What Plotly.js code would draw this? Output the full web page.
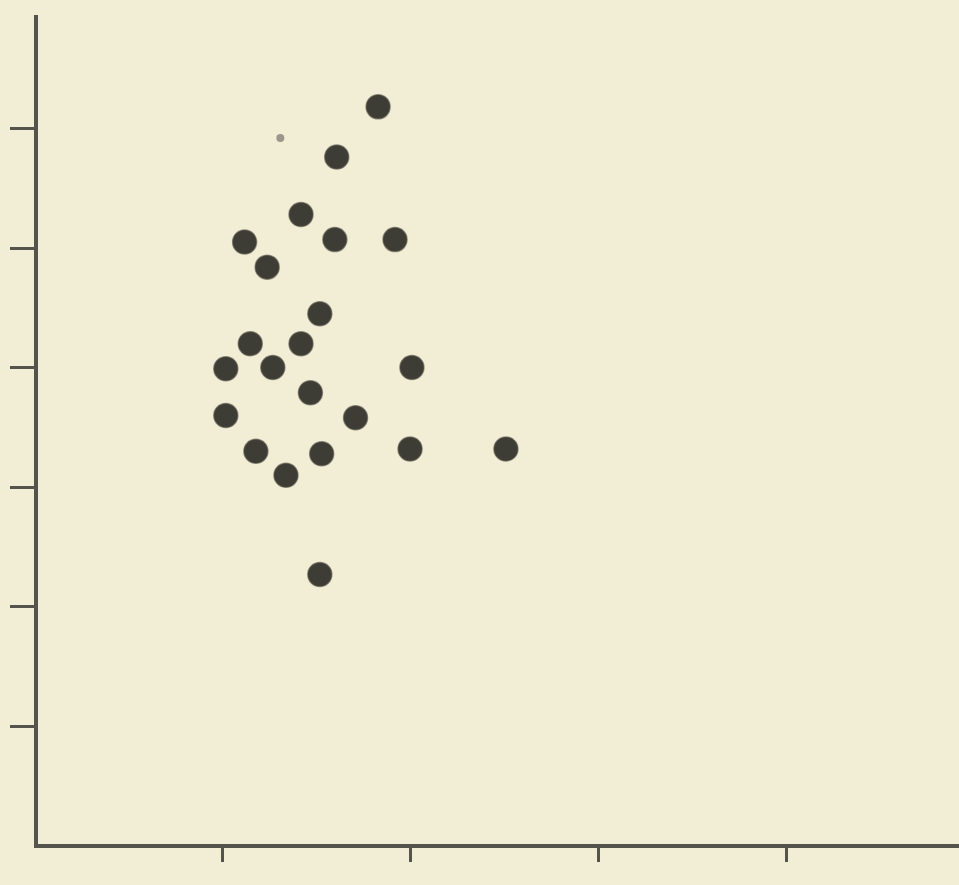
<!DOCTYPE html>
<html>
<head>
<meta charset="utf-8">
<script src="https://cdn.plot.ly/plotly-3.0.1.min.js"></script>
<style>
  html, body { margin: 0; padding: 0; background: #f2edd5; }
  #chart { width: 959px; height: 885px; }
</style>
</head>
<body>
<div id="chart"></div>
<script>
// Values (data units)
const xValues = [1.83, 1.61, 1.42, 1.12, 1.60, 1.92, 1.24, 1.52, 1.15, 1.42, 1.02, 1.27, 2.01, 1.47, 1.02, 1.71, 1.18, 1.53, 2.00, 2.51, 1.34, 1.52];
const yValues = [6.18, 5.76, 5.28, 5.05, 5.07, 5.07, 4.84, 4.45, 4.20, 4.20, 3.99, 4.00, 4.00, 3.79, 3.60, 3.58, 3.30, 3.28, 3.32, 3.32, 3.10, 2.27];
// faint small speck
const speckX = [1.31];
const speckY = [5.92];
const xTicks = [1, 2, 3, 4];
const yTicks = [1, 2, 3, 4, 5, 6];

const bg = '#f2edd5';
const ink = '#55544c';

const traces = [
  {
    type: 'scatter', mode: 'markers', x: xValues, y: yValues,
    marker: { size: 24, color: '#3e3d35', line: { width: 1.5, color: 'rgba(80,78,68,0.6)' } },
    hoverinfo: 'skip', showlegend: false
  },
  {
    type: 'scatter', mode: 'markers', x: speckX, y: speckY,
    marker: { size: 8, color: '#9a978a' },
    hoverinfo: 'skip', showlegend: false
  }
];

const layout = {
  width: 959, height: 885,
  paper_bgcolor: bg, plot_bgcolor: bg,
  margin: { l: 38, r: 0, t: 15, b: 41 },
  showlegend: false,
  xaxis: {
    range: [0.021, 4.92], showgrid: false, zeroline: false,
    showline: true, linewidth: 4, linecolor: ink,
    ticks: 'outside', ticklen: 14, tickwidth: 3, tickcolor: ink,
    tickvals: xTicks, showticklabels: false, fixedrange: true
  },
  yaxis: {
    range: [0.017, 6.948], showgrid: false, zeroline: false,
    showline: true, linewidth: 4, linecolor: ink,
    ticks: 'outside', ticklen: 24, tickwidth: 3, tickcolor: ink,
    tickvals: yTicks, showticklabels: false, fixedrange: true
  }
};

Plotly.newPlot('chart', traces, layout, { staticPlot: true, displayModeBar: false });
</script>
</body>
</html>
